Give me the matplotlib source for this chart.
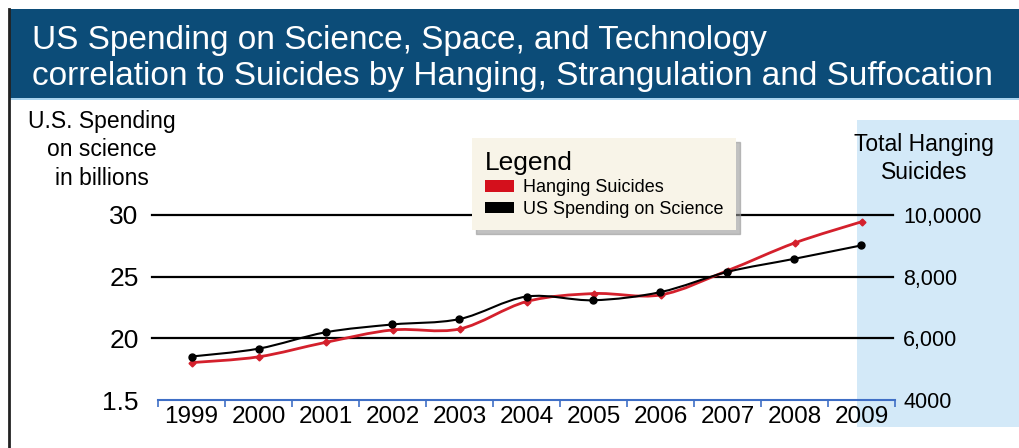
import matplotlib.pyplot as plt
from matplotlib.patches import Rectangle, Patch, PathPatch
from matplotlib.path import Path
from matplotlib.lines import Line2D

W, H = 1019, 448

# data
years = ['1999', '2000', '2001', '2002', '2003', '2004', '2005', '2006', '2007', '2008', '2009']
# red line, drawn on the left scale (billions)
red_vals = [18.03, 18.50, 19.67, 20.68, 20.76, 22.98, 23.63, 23.52, 25.49, 27.73, 29.45]
# black line, drawn on the right scale (suicides)
black_vals = [5410, 5665, 6195, 6450, 6625, 7355, 7235, 7500, 8155, 8580, 9015]

left_ticks = [15, 20, 25, 30]
left_labels = ['1.5', '20', '25', '30']
right_ticks = [4000, 6000, 8000, 10000]
right_labels = ['4000', '6,000', '8,000', '10,0000']

plt.rcParams['font.family'] = ['Liberation Sans', 'DejaVu Sans']


def fx(px):
    return px / W


def fy(py):
    return 1 - py / H


def smooth(ax, xs, ys, **kw):
    # catmull-rom through the points, as bezier segments
    verts = [(xs[0], ys[0])]
    codes = [Path.MOVETO]
    n = len(xs)
    for i in range(n - 1):
        p0 = (xs[max(i - 1, 0)], ys[max(i - 1, 0)])
        p1 = (xs[i], ys[i])
        p2 = (xs[i + 1], ys[i + 1])
        p3 = (xs[min(i + 2, n - 1)], ys[min(i + 2, n - 1)])
        c1 = (p1[0] + (p2[0] - p0[0]) / 6, p1[1] + (p2[1] - p0[1]) / 6)
        c2 = (p2[0] - (p3[0] - p1[0]) / 6, p2[1] - (p3[1] - p1[1]) / 6)
        verts += [c1, c2, p2]
        codes += [Path.CURVE4] * 3
    ax.add_patch(PathPatch(Path(verts, codes), fill=False, **kw))


fig = plt.figure(figsize=(W / 100, H / 100), dpi=100)

# title banner
fig.patches.append(Rectangle((fx(9), fy(98)), 1 - fx(9), fy(9) - fy(98), transform=fig.transFigure,
                             facecolor='#0c4c78', edgecolor='none', zorder=-5))
fig.patches.append(Rectangle((fx(9), fy(100)), 1 - fx(9), fy(98) - fy(100), transform=fig.transFigure,
                             facecolor='#a9d3ee', edgecolor='none', zorder=-5))
fig.lines.append(Line2D([fx(9), fx(9)], [0, fy(9)], transform=fig.transFigure, color='#222222', lw=2))
fig.text(fx(32), fy(49), 'US Spending on Science, Space, and Technology', color='white',
         fontsize=24, va='baseline')
fig.text(fx(32), fy(85), 'correlation to Suicides by Hanging, Strangulation and Suffocation', color='white',
         fontsize=24, va='baseline')

# light blue band on the right
fig.patches.append(Rectangle((fx(857), fy(427)), 1 - fx(857), fy(120) - fy(427), transform=fig.transFigure,
                             facecolor='#d3e9f8', edgecolor='none', zorder=-5))

ax = fig.add_axes([fx(158), fy(400), fx(895) - fx(158), fy(215) - fy(400)])
ax.patch.set_visible(False)
x = list(range(len(years)))
ax.set_xlim(-0.5, len(years) - 0.5)
ax.set_ylim(15, 30)

for v in left_ticks[1:]:
    ax.axhline(v, xmin=-0.008, xmax=0.997, color='black', lw=1.6, clip_on=False, zorder=1)

smooth(ax, x, red_vals, edgecolor='#d4202c', lw=2, zorder=3)
ax.plot(x, red_vals, 'D', color='#d4202c', ms=3.5, zorder=4)

ax2 = ax.twinx()
ax2.patch.set_visible(False)
ax2.set_ylim(4000, 10000)
smooth(ax2, x, black_vals, edgecolor='black', lw=1.5, zorder=3)
ax2.plot(x, black_vals, 'o', color='black', ms=5, zorder=4)

for a in (ax, ax2):
    for s in ['top', 'left', 'right']:
        a.spines[s].set_visible(False)
ax2.spines['bottom'].set_visible(False)
ax.spines['bottom'].set_color('#3f6fc6')
ax.spines['bottom'].set_linewidth(1.5)

ax.set_yticks(left_ticks)
ax.set_yticklabels(left_labels, fontsize=19)
ax.tick_params(axis='y', length=0, pad=14)

ax2.set_yticks(right_ticks)
ax2.set_yticklabels(right_labels, fontsize=15.5)
ax2.tick_params(axis='y', length=0, pad=6)

ax.set_xticks(x)
ax.set_xticklabels(years, fontsize=17.5)
ax.set_xticks([i - 0.5 for i in range(len(years) + 1)], minor=True)
ax.tick_params(axis='x', which='major', length=0, pad=4)
ax.tick_params(axis='x', which='minor', length=5, width=1.2, color='#3f6fc6', direction='out')

# axis titles
fig.text(fx(102), fy(110), 'U.S. Spending\non science\nin billions', fontsize=16.5,
         ha='center', va='top', linespacing=1.3)
fig.text(fx(924), fy(133), 'Total Hanging\nSuicides', fontsize=16.5,
         ha='center', va='top', linespacing=1.3)

handles = [Patch(facecolor='#d4101c', edgecolor='none', label='Hanging Suicides'),
           Patch(facecolor='black', edgecolor='none', label='US Spending on Science')]
leg = fig.legend(handles=handles, title='Legend', loc='upper left',
                 bbox_to_anchor=(fx(472), fy(138)), bbox_transform=fig.transFigure,
                 fontsize=13, title_fontsize=19, alignment='left', frameon=True,
                 facecolor='#f8f4e8', edgecolor='none', framealpha=1, fancybox=False,
                 shadow={'ox': 3, 'oy': -3, 'color': '#999999', 'alpha': 0.6},
                 handlelength=1.6, handleheight=0.6, handletextpad=0.5,
                 labelspacing=0.25, borderpad=0.7, borderaxespad=0)

fig.savefig('out.png', dpi=100)
